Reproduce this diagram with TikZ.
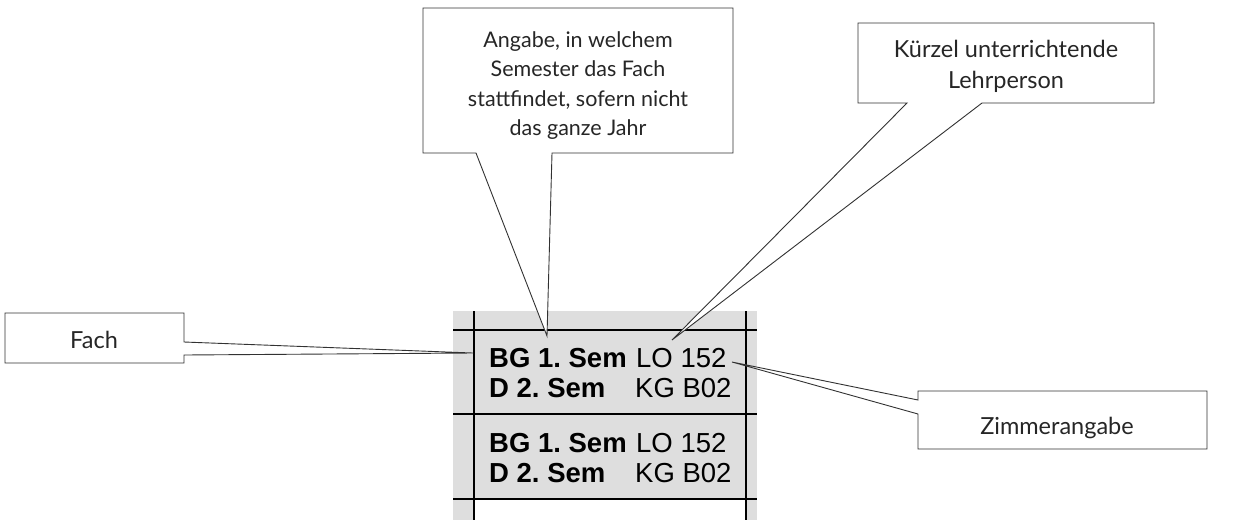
\documentclass[tikz,border=0pt]{standalone}
\usepackage{fontspec}
\setmainfont{Lato}
\newfontfamily\arialf{Liberation Sans}
\frenchspacing
\definecolor{cellgray}{RGB}{222,222,222}
\definecolor{calloutline}{RGB}{50,50,50}
\tikzset{
  callout/.style={draw=calloutline, line width=0.9pt, fill=white, line join=miter},
  grid/.style={draw=black, line width=2.2pt},
  lbl/.style={anchor=base, inner sep=0pt, text=black!85, font=\fontsize{21.5}{25}\selectfont},
  lblbig/.style={lbl, font=\fontsize{23.5}{27}\selectfont},
  celltxt/.style={anchor=base west, inner sep=0pt, font=\arialf\fontsize{27.5}{30}\selectfont},
  cellbold/.style={celltxt, font=\arialf\bfseries\fontsize{27.5}{30}\selectfont}
}
\begin{document}
\begin{tikzpicture}[x=1pt,y=-1pt]
\useasboundingbox (0,0) rectangle (1236,520);
% table
\fill[cellgray] (453,311) rectangle (757,499);
\fill[cellgray] (453,499) rectangle (474,520);
\fill[cellgray] (746,499) rectangle (757,520);
\draw[grid] (474,311) -- (474,520);
\draw[grid] (746,311) -- (746,520);
\draw[grid] (453,330) -- (757,330);
\draw[grid] (453,414) -- (757,414);
\draw[grid] (453,499) -- (757,499);
\node[cellbold] (bg1) at (489,367) {BG 1. Sem};
\node[celltxt] (lo1) at (636,367) {LO 152};
\node[cellbold] (d1) at (489,397) {D 2. Sem};
\node[celltxt] (kg1) at (635,397) {KG B02};
\node[cellbold] (bg2) at (489,452) {BG 1. Sem};
\node[celltxt] (lo2) at (636,452) {LO 152};
\node[cellbold] (d2) at (489,482) {D 2. Sem};
\node[celltxt] (kg2) at (635,482) {KG B02};
% pointer tips
\coordinate (tipfach) at (473,353);
\coordinate (tipsem) at (547,336);
\coordinate (tiplp) at (672,340);
\coordinate (tipzi) at (732,362);
% Fach callout
\draw[callout] (5,313) -- (184,313) -- (184,342) -- (tipfach) -- (184,355) -- (184,363) -- (5,363) -- cycle;
\node[lblbig] (fach) at (94,348) {Fach};
% Angabe callout
\draw[callout] (423,8) -- (733,8) -- (733,153) -- (552,153) -- (tipsem) -- (476,153) -- (423,153) -- cycle;
\node[lbl] (a1) at (578,47) {Angabe, in welchem};
\node[lbl] (a2) at (578,76.5) {Semester das Fach};
\node[lbl] (a3) at (578,106) {stattfindet, sofern nicht};
\node[lbl] (a4) at (578,135.5) {das ganze Jahr};
% Kuerzel callout
\draw[callout] (858,23) -- (1154,23) -- (1154,103) -- (982,103) -- (tiplp) -- (907,103) -- (858,103) -- cycle;
\node[lblbig] (k1) at (1006,57) {Kürzel unterrichtende};
\node[lblbig] (k2) at (1006,88) {Lehrperson};
% Zimmer callout
\draw[callout] (918,391) -- (1207,391) -- (1207,449) -- (918,449) -- (918,414) -- (tipzi) -- (918,400) -- cycle;
\node[lblbig] (zi) at (1057,434) {Zimmerangabe};
\end{tikzpicture}
\end{document}
